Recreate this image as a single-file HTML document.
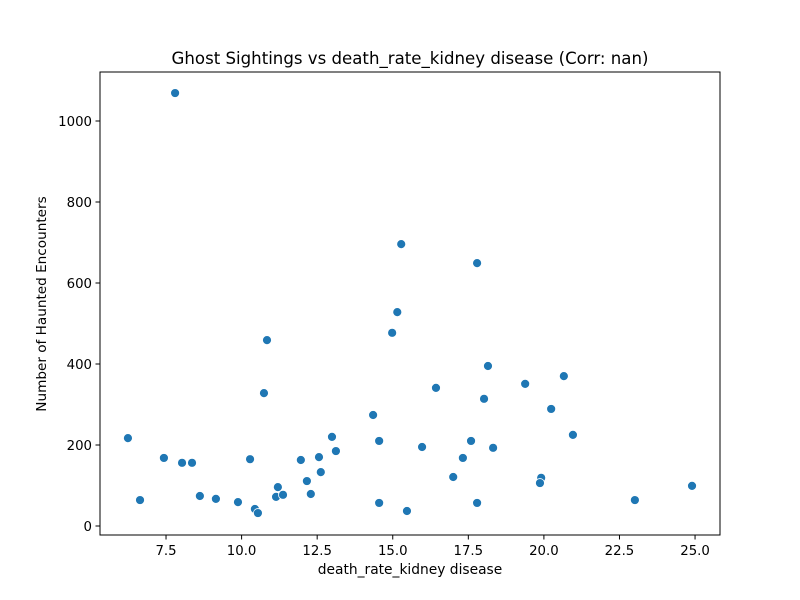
<!DOCTYPE html>
<html><head><meta charset="utf-8"><style>
body{margin:0;background:#fff}
svg{display:block;font-family:"DejaVu Sans","Liberation Sans",sans-serif}
</style></head><body>
<svg id="chart" width="800" height="600">
<rect width="800" height="600" fill="#fff"/>
<text x="410" y="64" text-anchor="middle" font-size="16.6">Ghost Sightings vs death_rate_kidney disease (Corr: nan)</text>
<g id="xticks"></g><g id="yticks"></g><g id="points"></g>
<rect x="100" y="72" width="620" height="463" fill="none" stroke="#000" stroke-width="1"/>
<text x="410" y="574" text-anchor="middle" font-size="13.8">death_rate_kidney disease</text>
<text transform="translate(46,304) rotate(-90)" text-anchor="middle" font-size="13.6">Number of Haunted Encounters</text>
</svg>
<script>
const xValues=[6.24,6.64,7.43,7.8,8.03,8.36,8.62,9.15,9.88,10.28,10.44,10.54,10.74,10.84,11.14,11.2,11.37,11.96,12.16,12.29,12.56,12.62,12.99,13.12,14.35,14.55,14.55,14.98,15.15,15.28,15.47,15.97,16.43,17.0,17.32,17.59,17.79,17.79,18.02,18.15,18.32,19.38,19.91,19.87,20.24,20.66,20.96,23.01,24.9];
const yValues=[217,64,168,1069,156,156,74,67,59,165,42,32,328,459,72,96,77,163,111,79,170,133,220,185,274,210,57,477,528,696,37,195,341,121,168,210,649,57,314,395,193,351,119,106,289,370,225,64,99];
const xTicks=[7.5,10.0,12.5,15.0,17.5,20.0,22.5,25.0];
const yTicks=[0,200,400,600,800,1000];
const NS="http://www.w3.org/2000/svg";
function sx(v){return -60.7+v*30.23;}
function sy(v){return 526-v*0.405;}
const xt=document.getElementById('xticks'),yt=document.getElementById('yticks'),pts=document.getElementById('points');
xTicks.forEach(t=>{
 const l=document.createElementNS(NS,'line');
 l.setAttribute('x1',sx(t));l.setAttribute('x2',sx(t));l.setAttribute('y1',535);l.setAttribute('y2',539.5);l.setAttribute('stroke','#000');
 
 
 xt.appendChild(l);
 const s=document.createElementNS(NS,'text');
 s.setAttribute('x',sx(t));s.setAttribute('y',555);s.setAttribute('text-anchor','middle');s.setAttribute('font-size','13.3');
 s.textContent=t.toFixed(1);
 
 
 xt.appendChild(s);
});
yTicks.forEach(t=>{
 const l=document.createElementNS(NS,'line');
 l.setAttribute('x1',95.5);l.setAttribute('x2',100);l.setAttribute('y1',sy(t));l.setAttribute('y2',sy(t));l.setAttribute('stroke','#000');
 
 
 yt.appendChild(l);
 const s=document.createElementNS(NS,'text');
 s.setAttribute('x',92);s.setAttribute('y',sy(t)+5);s.setAttribute('text-anchor','end');s.setAttribute('font-size','13.3');
 s.textContent=t;
 
 
 yt.appendChild(s);
});
xValues.forEach((x,i)=>{
 const c=document.createElementNS(NS,'circle');
 c.setAttribute('cx',sx(x));c.setAttribute('cy',sy(yValues[i]));c.setAttribute('r',4.5);
 c.setAttribute('fill','#1f77b4');c.setAttribute('stroke','#fff');c.setAttribute('stroke-width','0.8');
 
 
 pts.appendChild(c);
});
</script>
</body></html>
